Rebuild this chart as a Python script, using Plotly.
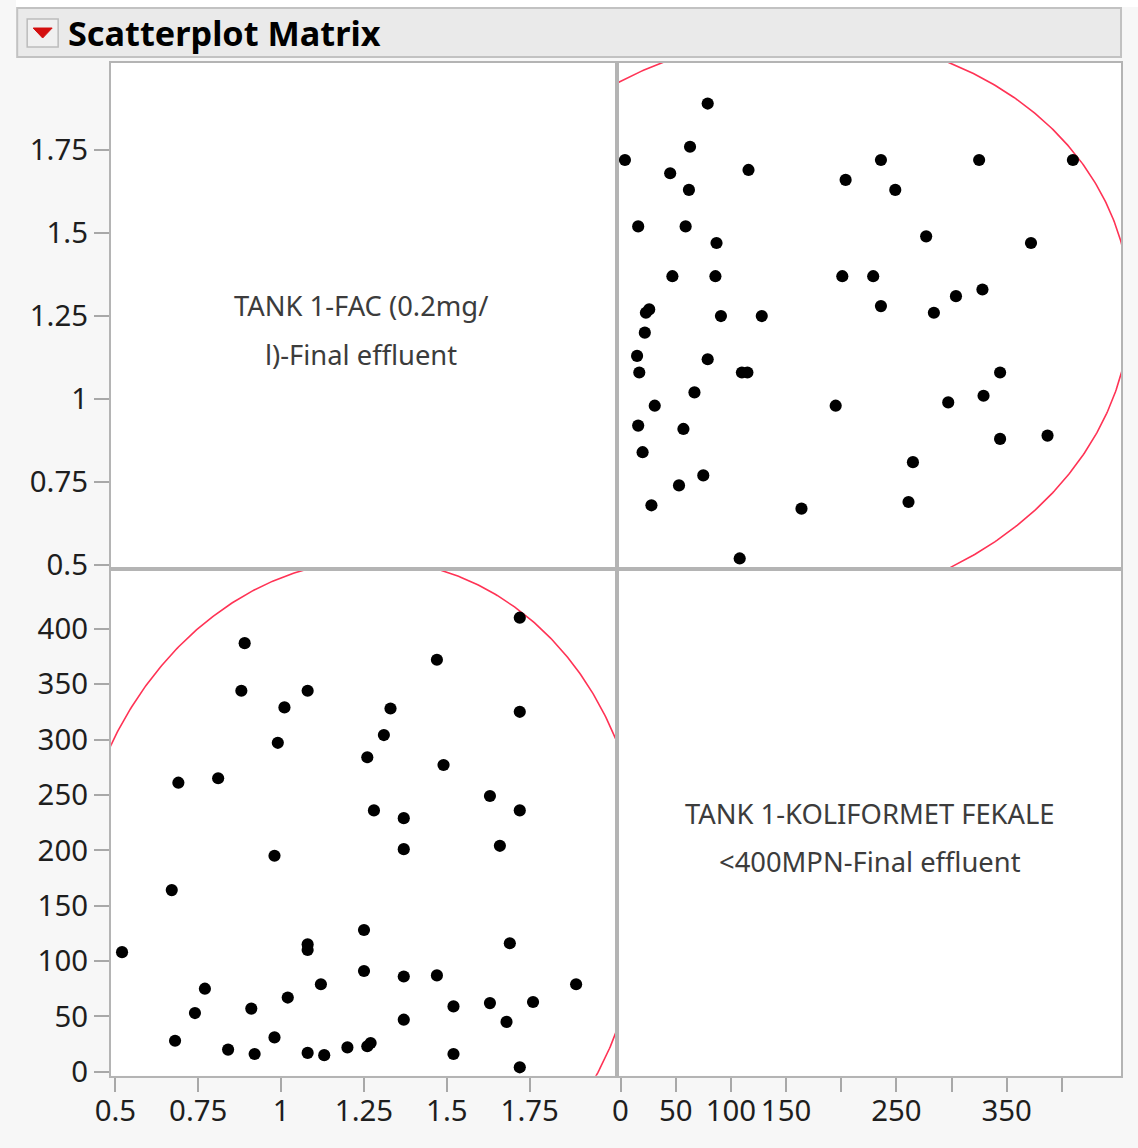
import numpy as np
import plotly.graph_objects as go

# ---- data ----
fac = [0.52, 0.89, 0.88, 1.08, 1.01, 0.99, 0.69, 0.81, 0.98, 0.67,
       1.33, 1.31, 1.26, 1.47, 1.49, 1.28, 1.37, 1.37, 1.72, 1.72,
       1.63, 1.72, 1.66, 1.25, 1.08, 1.08, 1.69, 0.68, 0.74, 0.77,
       0.84, 0.91, 0.92, 0.98, 1.02, 1.08, 1.13, 1.12, 1.20, 1.25,
       1.26, 1.27, 1.37, 1.37, 1.47, 1.52, 1.52, 1.63, 1.68, 1.76,
       1.89, 1.72]
koliform = [108, 387, 344, 344, 329, 297, 261, 265, 195, 164,
            328, 304, 284, 372, 277, 236, 229, 201, 410, 325,
            249, 236, 204, 128, 115, 110, 116, 28, 53, 75,
            20, 57, 16, 31, 67, 17, 15, 79, 22, 91,
            23, 26, 86, 47, 87, 59, 16, 62, 45, 63,
            79, 4]

fac_label = ["TANK 1-FAC (0.2mg/", "l)-Final effluent"]
kol_label = ["TANK 1-KOLIFORMET FEKALE", "<400MPN-Final effluent"]
fac_ticks = [0.5, 0.75, 1, 1.25, 1.5, 1.75]
fac_ticktext = ["0.5", "0.75", "1", "1.25", "1.5", "1.75"]
kol_ticks_y = [0, 50, 100, 150, 200, 250, 300, 350, 400]
kol_ticks_x = [0, 50, 100, 150, 200, 250, 300, 350, 400]
kol_ticktext_x = ["0", "50", "100", "150", "", "250", "", "350", ""]
title = "Scatterplot Matrix"

FAC_R = [0.487, 2.012]
KOL_R = [-3.6, 453.6]

# figure fills the page; the photographed picture is slightly rescaled,
# so target (picture) pixel positions are mapped back to page positions
FW, FH = 1138, 1148
SX, SY, SHIFT = 1153 / 1138, 1164 / 1148, 15
def px(X): return (X * SX - SHIFT) / FW
def py(Y): return 1 - (Y * SY) / FH
def sz(v): return v * SX

LEFT = [px(110), px(616)]
RIGHT = [px(616), px(1121)]
TOP = [py(569), py(63)]
BOTTOM = [py(1075), py(569)]

FONT = "Noto Sans"
FRAME = "#b4b4b4"
RED = "#ff3355"
ELLIPSE_R = 2.50


def ellipse(a, b, r, n=800):
    a = np.asarray(a, float); b = np.asarray(b, float)
    L = np.linalg.cholesky(np.cov(a, b))
    t = np.linspace(0, 2 * np.pi, n)
    pts = L @ np.vstack([np.cos(t), np.sin(t)]) * r
    return pts[0] + a.mean(), pts[1] + b.mean()


fig = go.Figure()
mk = dict(color="black", size=sz(12), line=dict(width=0))

ex, ey = ellipse(fac, koliform, ELLIPSE_R)
# bottom-left: x = FAC, y = koliform
fig.add_trace(go.Scatter(x=ex, y=ey, mode="lines", line=dict(color=RED, width=1.6),
                         xaxis="x", yaxis="y", hoverinfo="skip"))
fig.add_trace(go.Scatter(x=fac, y=koliform, mode="markers", marker=mk,
                         xaxis="x", yaxis="y"))
# top-right: x = koliform, y = FAC
fig.add_trace(go.Scatter(x=ey, y=ex, mode="lines", line=dict(color=RED, width=1.6),
                         xaxis="x2", yaxis="y2", hoverinfo="skip"))
fig.add_trace(go.Scatter(x=koliform, y=fac, mode="markers", marker=mk,
                         xaxis="x2", yaxis="y2"))
# diagonal placeholders
fig.add_trace(go.Scatter(x=[], y=[], xaxis="x3", yaxis="y3"))
fig.add_trace(go.Scatter(x=[], y=[], xaxis="x4", yaxis="y4"))

tickfont = dict(family=FONT, size=sz(29), color="#1e1e1e")
frame = dict(showline=True, mirror=True, linecolor=FRAME, linewidth=2,
             showgrid=False, zeroline=False, fixedrange=True)
noticks = dict(ticks="", showticklabels=False)
yticks = dict(ticks="outside", ticklen=sz(15), tickwidth=2, tickcolor="#a8a8a8",
              tickfont=tickfont, ticklabelstandoff=0)
xticks = dict(ticks="outside", ticklen=sz(14), tickwidth=2, tickcolor="#a8a8a8",
              tickfont=tickfont, ticklabelstandoff=-6)

fig.update_layout(
    width=FW, height=FH,
    margin=dict(l=0, r=0, t=0, b=0),
    paper_bgcolor="#f7f7f7", plot_bgcolor="white",
    showlegend=False,
    xaxis=dict(domain=LEFT, anchor="y", range=FAC_R, tickvals=fac_ticks,
               ticktext=fac_ticktext, **frame, **xticks),
    yaxis=dict(domain=BOTTOM, anchor="x", range=KOL_R, tickvals=kol_ticks_y,
               **frame, **yticks),
    xaxis2=dict(domain=RIGHT, anchor="y2", range=KOL_R, **frame, **noticks),
    yaxis2=dict(domain=TOP, anchor="x2", range=FAC_R, **frame, **noticks),
    xaxis3=dict(domain=LEFT, anchor="y3", range=[0, 1], **frame, **noticks),
    yaxis3=dict(domain=TOP, anchor="x3", range=FAC_R, tickvals=fac_ticks,
                ticktext=fac_ticktext, **frame, **yticks),
    xaxis4=dict(domain=RIGHT, anchor="y4", range=KOL_R, tickvals=kol_ticks_x,
                ticktext=kol_ticktext_x, **frame, **xticks),
    yaxis4=dict(domain=BOTTOM, anchor="x4", range=[0, 1], **frame, **noticks),
)

shapes = [
    # white strip at the top
    dict(type="rect", xref="paper", yref="paper", x0=0, x1=1, y0=py(7), y1=1,
         fillcolor="white", line=dict(width=0), layer="below"),
    # title bar
    dict(type="rect", xref="paper", yref="paper", x0=px(16), x1=px(1121),
         y0=py(57), y1=py(8), fillcolor="#eaeaea",
         line=dict(color="#c2c2c2", width=2), layer="below"),
    # disclosure button
    dict(type="rect", xref="paper", yref="paper", x0=px(26), x1=px(57),
         y0=py(47), y1=py(19), fillcolor="#f0f0f0",
         line=dict(color="#bcbcbc", width=1.5), layer="above"),
    dict(type="path", xref="paper", yref="paper",
         path=f"M {px(32)} {py(28)} L {px(51)} {py(28)} L {px(41.5)} {py(38)} Z",
         fillcolor="#d40f0f", line=dict(color="#d40f0f", width=1), layer="above"),
]
fig.update_layout(shapes=shapes)

ann = [
    dict(text=title, x=px(65), y=py(32), xref="paper", yref="paper",
         xanchor="left", yanchor="middle", showarrow=False,
         font=dict(family=FONT, size=sz(33.8), color="black", weight="bold")),
]
diag_font = dict(family=FONT, size=sz(27), color="#3c3c3c")
for txt, yy in zip(fac_label, [305, 354]):
    ann.append(dict(text=txt, x=px(360), y=py(yy), xref="paper", yref="paper",
                    xanchor="center", yanchor="middle", showarrow=False, font=diag_font))
for txt, yy in zip(kol_label, [813, 861]):
    ann.append(dict(text=txt, x=px(870), y=py(yy), xref="paper", yref="paper",
                    xanchor="center", yanchor="middle", showarrow=False, font=diag_font))
fig.update_layout(annotations=ann)

fig.write_html("out.html", include_plotlyjs=True, config={"displayModeBar": False},
               post_script="document.body.style.margin='0';document.body.style.overflow='hidden';")
